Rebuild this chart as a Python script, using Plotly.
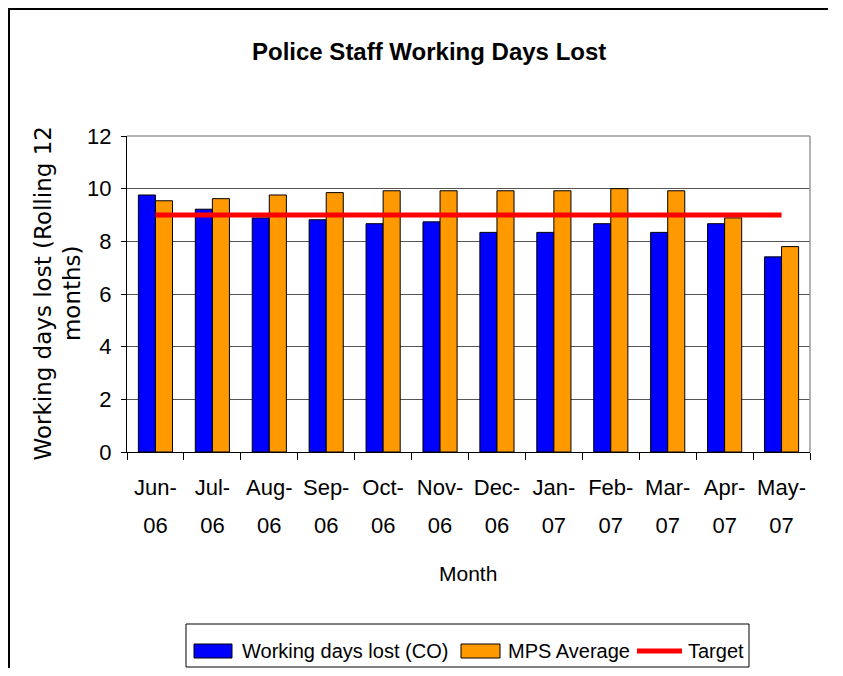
import plotly.graph_objects as go

month_labels = ["Jun-", "Jul-", "Aug-", "Sep-", "Oct-", "Nov-",
                "Dec-", "Jan-", "Feb-", "Mar-", "Apr-", "May-"]
year_labels = ["06", "06", "06", "06", "06", "06", "06", "07", "07", "07", "07", "07"]
categories = [m + y for m, y in zip(month_labels, year_labels)]
working_days_lost_co = [9.76, 9.22, 8.89, 8.82, 8.67, 8.74, 8.34, 8.34, 8.67, 8.34, 8.67, 7.41]
mps_average = [9.54, 9.62, 9.76, 9.85, 9.92, 9.92, 9.92, 9.92, 10.0, 9.92, 8.89, 7.80]
target = [9] * 12

# page body has an 8px default margin; figure is sized to fit the window
OFF = 8
FW, FH = 843 - OFF, 676 - 2 * OFF
# plot area in screen pixels
L, R, T, B = 127, 810, 136, 452
PW, PH = R - L, B - T


def px(x):
    return (x - L) / PW


def py(y):
    return (B - y) / PH


FONT = "Liberation Sans, Arial, sans-serif"

fig = go.Figure()
fig.add_trace(go.Bar(x=categories, y=working_days_lost_co, name="Working days lost (CO)",
                     marker=dict(color="#0000FF", line=dict(color="#000000", width=1))))
fig.add_trace(go.Bar(x=categories, y=mps_average, name="MPS Average",
                     marker=dict(color="#FF9900", line=dict(color="#000000", width=1))))
fig.add_trace(go.Scatter(x=categories, y=target, name="Target", mode="lines",
                         line=dict(color="#FF0000", width=5)))
# empty helper trace so that the second label row (years) axis is drawn
fig.add_trace(go.Scatter(x=list(range(len(year_labels))), y=[None] * len(year_labels),
                         xaxis="x2", mode="lines", showlegend=False, hoverinfo="skip"))

border_path = "M {:.5f},{:.5f} L {:.5f},{:.5f} L {:.5f},{:.5f}".format(
    px(9), py(668), px(9), py(9), px(828), py(9))

shapes = [
    # outer chart border (left and top edges)
    dict(type="path", xref="paper", yref="paper", path=border_path,
         line=dict(color="#000000", width=2), layer="above"),
    # plot area top / right border
    dict(type="line", xref="paper", yref="paper", x0=0, x1=1, y0=1, y1=1,
         line=dict(color="#999999", width=1.5), layer="above"),
    dict(type="line", xref="paper", yref="paper", x0=1, x1=1, y0=0, y1=1,
         line=dict(color="#999999", width=1.5), layer="above"),
    # legend box and swatches
    dict(type="rect", xref="paper", yref="paper", x0=px(186), x1=px(749), y0=py(667), y1=py(624),
         line=dict(color="#000000", width=1), fillcolor="white", layer="above"),
    dict(type="rect", xref="paper", yref="paper", x0=px(194), x1=px(232), y0=py(658), y1=py(644),
         line=dict(color="#000000", width=1), fillcolor="#0000FF", layer="above"),
    dict(type="rect", xref="paper", yref="paper", x0=px(461), x1=px(500), y0=py(658), y1=py(644),
         line=dict(color="#000000", width=1), fillcolor="#FF9900", layer="above"),
    dict(type="line", xref="paper", yref="paper", x0=px(637), x1=px(682), y0=py(651), y1=py(651),
         line=dict(color="#FF0000", width=5), layer="above"),
]

legend_font = dict(family=FONT, size=20, color="#000000")
annotations = [
    dict(text="<b>Police Staff Working Days Lost</b>", xref="paper", yref="paper",
         x=px(428.5), y=py(36), xanchor="center", yanchor="top", showarrow=False,
         font=dict(family=FONT, size=24, color="#000000")),
    dict(text="Working days lost (Rolling 12<br>months)", xref="paper", yref="paper",
         x=px(57.5), y=0.5, xanchor="center", yanchor="middle", textangle=-90, showarrow=False,
         font=dict(family="DejaVu Sans", size=23, color="#000000")),
    dict(text="Month", xref="paper", yref="paper", x=px(467.5), y=py(573),
         xanchor="center", yanchor="middle", showarrow=False,
         font=dict(family=FONT, size=21, color="#000000")),
    dict(text="Working days lost (CO)", xref="paper", yref="paper", x=px(240), y=py(651),
         xanchor="left", yanchor="middle", showarrow=False, font=legend_font),
    dict(text="MPS Average", xref="paper", yref="paper", x=px(506), y=py(651),
         xanchor="left", yanchor="middle", showarrow=False, font=legend_font),
    dict(text="Target", xref="paper", yref="paper", x=px(686), y=py(651),
         xanchor="left", yanchor="middle", showarrow=False, font=legend_font),
]

tickfont = dict(family=FONT, size=22, color="#000000")
fig.update_layout(
    width=FW, height=FH,
    margin=dict(l=L - OFF, r=FW - (R - OFF), t=T - OFF, b=FH - (B - OFF), pad=0),
    paper_bgcolor="white", plot_bgcolor="white",
    barmode="group", bargap=0.4, bargroupgap=0,
    showlegend=False,
    shapes=shapes, annotations=annotations,
    font=dict(family=FONT, size=21, color="#000000"),
    xaxis=dict(
        type="category", categoryorder="array", categoryarray=categories,
        tickvals=categories, ticktext=month_labels,
        showgrid=False, showline=True, linecolor="#000000", linewidth=1,
        ticks="outside", tickson="boundaries", ticklen=7, tickcolor="#000000", tickwidth=1,
        tickfont=tickfont, ticklabelstandoff=16, tickangle=0, automargin=False,
        range=[-0.5, 11.5], fixedrange=True,
    ),
    xaxis2=dict(
        overlaying="x", side="bottom", anchor="y", type="linear", range=[-0.5, 11.5],
        tickmode="array", tickvals=list(range(len(year_labels))), ticktext=year_labels,
        showgrid=False, showline=False, zeroline=False, ticks="",
        tickfont=tickfont, ticklabelstandoff=58, tickangle=0, automargin=False,
        fixedrange=True,
    ),
    yaxis=dict(
        range=[0, 12], dtick=2, tick0=0, showgrid=True, gridcolor="#555555", gridwidth=1,
        showline=True, linecolor="#000000", linewidth=1, zeroline=False,
        ticks="outside", ticklen=5, tickcolor="#000000", tickwidth=1,
        tickfont=tickfont, ticklabelstandoff=5, automargin=False, fixedrange=True,
    ),
)

fig.write_html("out.html")
